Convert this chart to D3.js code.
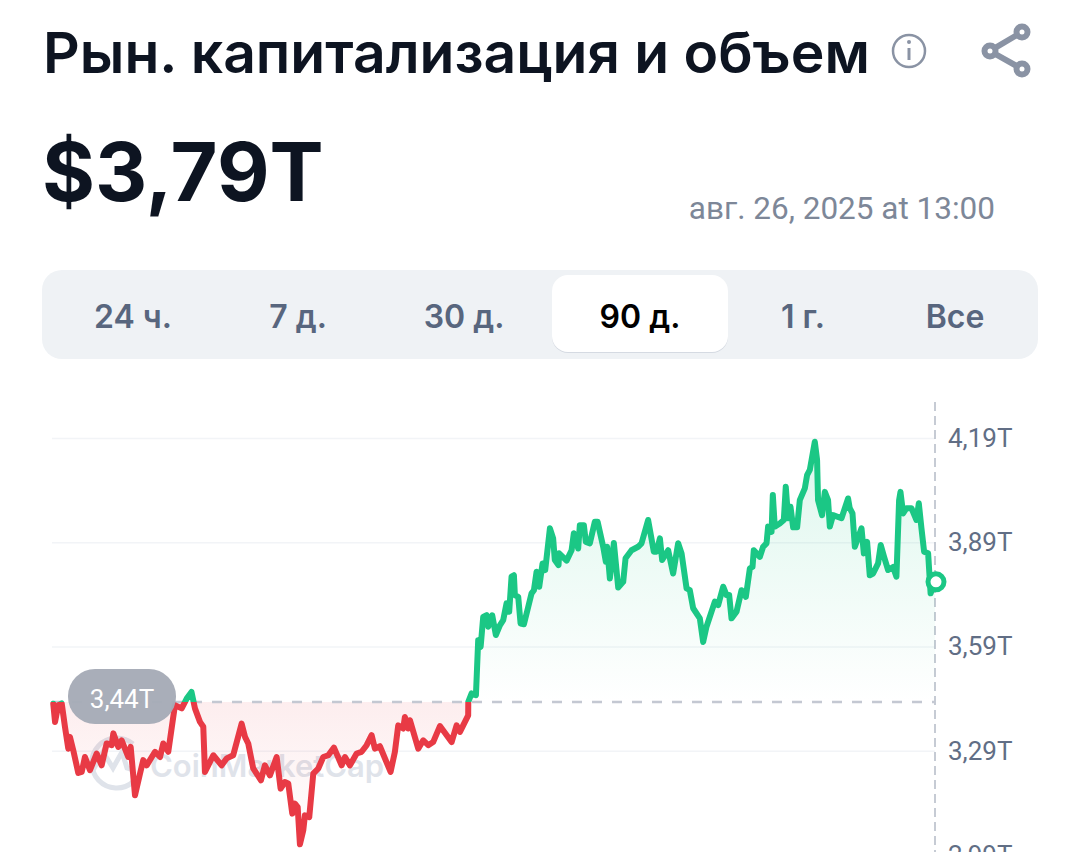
<!DOCTYPE html>
<html lang="ru">
<head>
<meta charset="utf-8">
<script src="https://cdn.jsdelivr.net/npm/d3@7"></script>
<style>
  html, body { margin: 0; padding: 0; background: #fff; overflow: hidden; }
  svg { display: block; }
  text { font-family: Inter, Roboto, sans-serif; }
</style>
</head>
<body>
<script>
// values
const tabLabels = ["24 ч.", "7 д.", "30 д.", "90 д.", "1 г.", "Все"];
const tabCenters = [133, 298, 464, 640, 803, 955];
const tickValues = [2.99, 3.29, 3.59, 3.89, 4.19];
const baseValue = 3.43;
const baseLabel = "3,44T";
const days = [
  0.13,0.31,0.64,0.99,1.32,1.66,1.83,2.17,2.68,3.03,3.36,3.87,4.55,5.06,5.57,6.08,6.25,6.76,7.10,7.77,
  8.02,8.46,8.97,9.30,9.65,10.50,11.01,11.34,11.85,12.53,13.22,13.73,14.22,14.57,15.08,15.42,15.59,16.44,17.29,17.80,
  18.47,19.33,19.67,20.00,20.51,21.30,21.70,22.21,22.90,23.30,23.74,24.08,24.49,24.76,25.04,25.27,25.61,25.78,26.22,26.63,
  27.14,27.65,28.16,28.74,29.52,29.86,30.37,31.05,31.56,32.07,32.58,32.91,33.42,34.51,34.95,35.29,35.80,35.97,36.31,36.48,
  37.33,37.84,38.35,38.85,39.54,40.73,41.24,41.58,41.91,42.42,42.43,42.77,43.21,43.44,43.69,43.95,44.30,44.46,44.87,45.24,
  45.65,45.99,46.33,46.60,46.84,47.08,47.18,47.52,47.76,48.10,48.54,48.88,49.12,49.39,49.66,50.00,50.27,50.75,51.08,51.25,
  51.63,51.69,52.45,52.96,53.19,53.63,53.80,54.21,54.41,54.82,55.33,55.61,56.18,56.45,56.58,56.86,57.27,57.71,58.22,58.46,
  59.07,59.74,60.09,60.76,61.34,61.62,61.96,62.19,62.80,63.31,63.82,64.17,64.68,65.01,65.35,66.03,66.37,66.71,67.56,67.90,
  68.41,68.75,69.02,69.26,69.77,70.28,70.72,71.13,71.40,71.53,72.15,72.48,72.83,72.99,73.34,73.47,73.67,74.18,74.59,74.79,
  75.03,75.27,75.54,75.95,76.22,76.73,76.96,77.24,77.75,77.98,78.08,78.49,78.77,79.10,79.28,79.61,80.47,81.14,81.31,81.59,
  81.83,82.51,82.75,83.08,83.35,83.69,84.20,84.47,84.81,85.22,85.73,86.07,86.34,86.48,86.75,87.10,87.60,88.11,88.35,88.62,
  88.89,89.30,89.55,90.00
];
const capT = [
  3.425,3.373,3.421,3.426,3.359,3.296,3.330,3.291,3.226,3.229,3.272,3.234,3.282,3.248,3.311,3.306,3.340,3.301,3.320,3.272,
  3.301,3.162,3.224,3.263,3.248,3.287,3.272,3.311,3.287,3.421,3.412,3.440,3.459,3.412,3.373,3.359,3.229,3.277,3.248,3.268,
  3.277,3.368,3.330,3.311,3.239,3.205,3.248,3.219,3.272,3.181,3.200,3.196,3.109,3.138,3.128,3.021,3.061,3.104,3.099,3.224,
  3.239,3.272,3.277,3.299,3.248,3.272,3.248,3.282,3.287,3.306,3.335,3.296,3.303,3.229,3.287,3.363,3.354,3.387,3.354,3.378,
  3.296,3.320,3.306,3.315,3.361,3.315,3.363,3.344,3.363,3.392,3.431,3.455,3.450,3.608,3.589,3.675,3.680,3.647,3.680,3.623,
  3.651,3.666,3.714,3.690,3.791,3.795,3.738,3.733,3.656,3.654,3.704,3.743,3.752,3.805,3.762,3.829,3.810,3.930,3.901,3.839,
  3.824,3.858,3.837,3.867,3.916,3.872,3.939,3.939,3.891,3.887,3.949,3.949,3.877,3.834,3.877,3.786,3.888,3.760,3.776,3.844,
  3.867,3.877,3.887,3.954,3.863,3.863,3.901,3.839,3.867,3.800,3.887,3.858,3.757,3.752,3.700,3.671,3.603,3.647,3.719,3.709,
  3.762,3.738,3.738,3.671,3.690,3.752,3.733,3.815,3.819,3.867,3.848,3.877,3.887,3.935,3.920,4.026,3.935,3.944,3.954,4.050,
  3.959,3.992,3.933,3.933,4.011,4.045,4.083,4.098,4.179,4.127,4.011,3.968,4.035,4.011,3.935,3.968,3.959,4.016,3.988,3.973,
  3.877,3.930,3.858,3.891,3.795,3.800,3.829,3.882,3.848,3.810,3.819,3.791,4.011,4.035,3.973,3.988,3.988,3.954,4.002,3.930,
  3.863,3.858,3.743,3.776
];

const green = "#1bc785", red = "#e83a45";
const width = 1080, height = 852;
const points = d3.zip(days, capT);

const svg = d3.select("body").append("svg")
    .attr("width", width)
    .attr("height", height);

const x = d3.scaleLinear().domain([0, 90]).range([52, 935]);
const y = d3.scaleLinear().domain([2.99, 4.19]).range([855, 438]);
const baseY = y(baseValue);

// header
svg.append("text").attr("x", 43).attr("y", 73)
    .style("font-size", "57px").style("font-weight", 600).attr("fill", "#0d1421")
    .text("Рын. капитализация и объем");
svg.append("text").attr("x", 42).attr("y", 201)
    .style("font-size", "81px").style("font-weight", 700).attr("fill", "#0d1421")
    .text("$3,79T");
svg.append("text").attr("x", 995).attr("y", 219).attr("text-anchor", "end")
    .style("font-family", "Roboto").style("font-size", "31.5px").attr("fill", "#7d8798")
    .text("авг. 26, 2025 at 13:00");

// info icon
const info = svg.append("g").attr("transform", "translate(909,51)").attr("fill", "none").attr("stroke", "#8a93a4");
info.append("circle").attr("r", 16).attr("stroke-width", 2.5);
info.append("line").attr("y1", -3).attr("y2", 9).attr("stroke-width", 3);
info.append("circle").attr("cy", -9).attr("r", 1).attr("stroke-width", 2);

// share icon
const share = svg.append("g").attr("fill", "#fff").attr("stroke", "#8a93a4").attr("stroke-width", 6);
share.append("path").attr("fill", "none").attr("d", "M1022,32L990,51L1022,69");
[[1022, 32], [990, 51], [1022, 69]].forEach(c => {
    share.append("circle").attr("cx", c[0]).attr("cy", c[1]).attr("r", 5.5);
});

// range tabs
svg.append("rect").attr("x", 42).attr("y", 270).attr("width", 996).attr("height", 89)
    .attr("rx", 20).attr("fill", "#eff2f5");
svg.append("rect").attr("x", 552).attr("y", 277).attr("width", 176).attr("height", 76)
    .attr("rx", 16).attr("fill", "#d5dae2");
svg.append("rect").attr("x", 552).attr("y", 275).attr("width", 176).attr("height", 77)
    .attr("rx", 16).attr("fill", "#fff");
svg.selectAll(".tab").data(tabLabels).enter().append("text")
    .attr("class", "tab")
    .attr("x", (d, i) => tabCenters[i])
    .attr("y", 328)
    .attr("text-anchor", "middle")
    .style("font-size", "32px").style("font-weight", 600)
    .attr("fill", d => d === "90 д." ? "#000" : "#58667e")
    .text(d => d);

// gradients and clips for the two sides of the base value
const defs = svg.append("defs");
const gradGreen = defs.append("linearGradient").attr("id", "fillGreen")
    .attr("gradientUnits", "userSpaceOnUse")
    .attr("x1", 0).attr("x2", 0).attr("y1", y(4.19)).attr("y2", baseY);
gradGreen.append("stop").attr("offset", 0).attr("stop-color", green).attr("stop-opacity", 0.15);
gradGreen.append("stop").attr("offset", 1).attr("stop-color", green).attr("stop-opacity", 0);
const gradRed = defs.append("linearGradient").attr("id", "fillRed")
    .attr("gradientUnits", "userSpaceOnUse")
    .attr("x1", 0).attr("x2", 0).attr("y1", baseY).attr("y2", y(3.02));
gradRed.append("stop").attr("offset", 0).attr("stop-color", red).attr("stop-opacity", 0.09);
gradRed.append("stop").attr("offset", 1).attr("stop-color", red).attr("stop-opacity", 0);
defs.append("clipPath").attr("id", "above").append("rect")
    .attr("x", 0).attr("y", 0).attr("width", width).attr("height", baseY);
defs.append("clipPath").attr("id", "below").append("rect")
    .attr("x", 0).attr("y", baseY).attr("width", width).attr("height", height - baseY);

// grid and y axis
const yAxis = svg.append("g")
    .attr("transform", `translate(${x(90)},0)`)
    .call(d3.axisRight(y)
        .tickValues(tickValues)
        .tickSize(-883)
        .tickPadding(13)
        .tickFormat(d => d3.format(".2f")(d).replace(".", ",") + "T"));
yAxis.select(".domain").remove();
yAxis.selectAll("line").attr("stroke", "#f2f4f7").attr("stroke-width", 1.5);
yAxis.selectAll("text")
    .style("font-family", "Roboto")
    .style("font-size", "26px")
    .attr("fill", "#616e85");

// right dashed edge
svg.append("line").attr("x1", x(90)).attr("x2", x(90)).attr("y1", 402).attr("y2", height)
    .attr("stroke", "#b4bac6").attr("stroke-width", 1.5).attr("stroke-dasharray", "9,5");

// watermark
const mark = svg.append("g").attr("fill", "none").attr("stroke", "#dfe3ea").attr("stroke-width", 5);
mark.append("path").attr("d", "M133,744A25,25 0 1 0 133,782");
mark.append("path").attr("d", "M92,772L103,752L113,768L122,752L127,768L134,770");
svg.append("text").attr("x", 150).attr("y", 777)
    .style("font-size", "31px").style("font-weight", 600).attr("fill", "#dfe3ea")
    .text("CoinMarketCap");

// filled areas
const area = d3.area().x(d => x(d[0])).y0(baseY).y1(d => y(d[1]));
svg.append("path").datum(points).attr("d", area)
    .attr("fill", "url(#fillGreen)").attr("clip-path", "url(#above)");
svg.append("path").datum(points).attr("d", area)
    .attr("fill", "url(#fillRed)").attr("clip-path", "url(#below)");

// base value line
svg.append("line").attr("x1", x(0)).attr("x2", x(90)).attr("y1", baseY).attr("y2", baseY)
    .attr("stroke", "#c4c8d2").attr("stroke-width", 2.5).attr("stroke-dasharray", "10,10");

// price line
const line = d3.line().x(d => x(d[0])).y(d => y(d[1]));
[["above", green], ["below", red]].forEach(s => {
    svg.append("path").datum(points).attr("d", line)
        .attr("fill", "none")
        .attr("stroke", s[1])
        .attr("stroke-width", 6)
        .attr("stroke-linejoin", "round")
        .attr("stroke-linecap", "round")
        .attr("clip-path", `url(#${s[0]})`);
});

// last point
const last = points[points.length - 1];
svg.append("circle").attr("cx", x(last[0]) + 1).attr("cy", y(last[1]))
    .attr("r", 8).attr("fill", "#fff").attr("stroke", green).attr("stroke-width", 5);

// base value pill
svg.append("rect").attr("x", 68).attr("y", 669).attr("width", 108).attr("height", 55)
    .attr("rx", 27).attr("fill", "#a6abb7").attr("fill-opacity", 0.97);
svg.append("text").attr("x", 122).attr("y", 708).attr("text-anchor", "middle")
    .style("font-family", "Roboto").style("font-size", "26px").attr("fill", "#fff")
    .text(baseLabel);
</script>
</body>
</html>
